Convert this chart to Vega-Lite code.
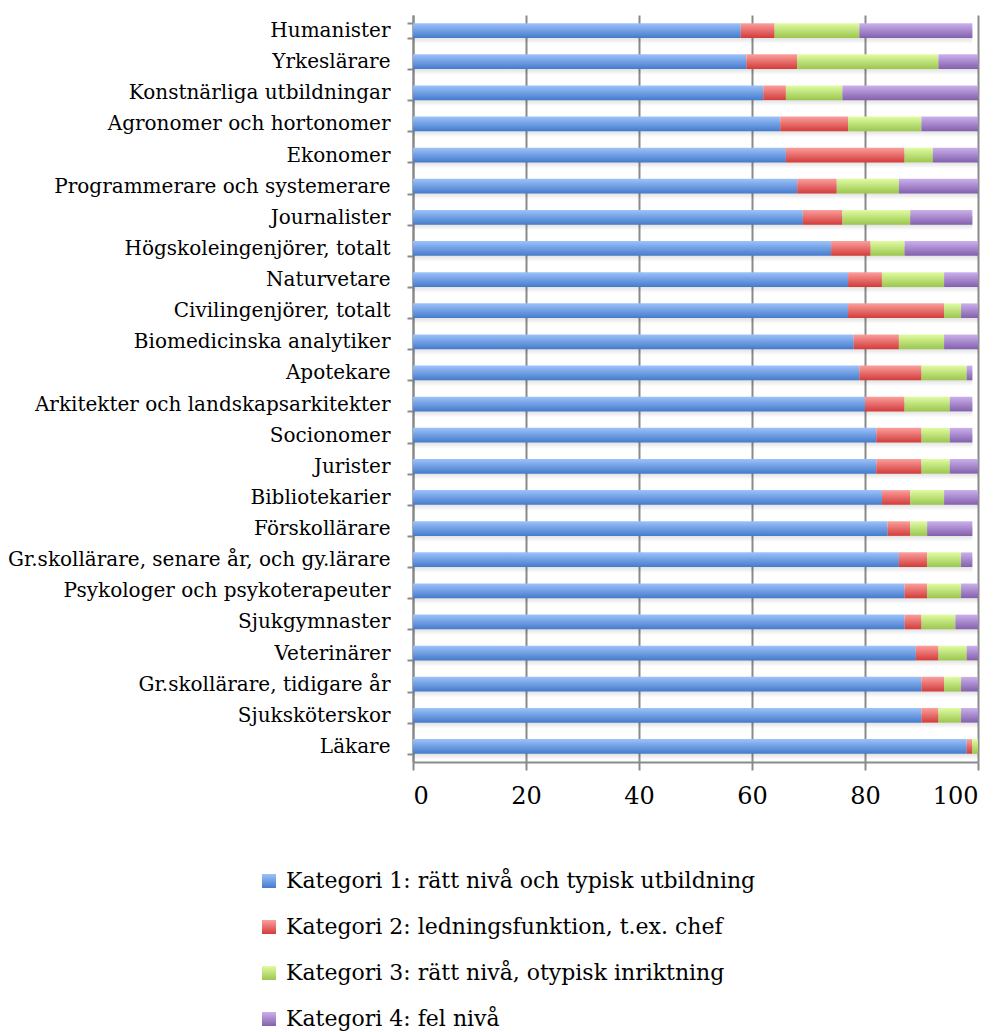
{
  "$schema": "https://vega.github.io/schema/vega-lite/v6.json",
  "autosize": "none",
  "width": 565,
  "height": 747,
  "padding": {"left": 413, "top": 15, "right": 22, "bottom": 270},
  "background": "white",
  "config": {
    "view": {"stroke": null},
    "font": "DejaVu Serif",
    "axis": {"labelFont": "DejaVu Serif", "labelColor": "#000000", "title": null}
  },
  "datasets": {
    "yrken": [
      {"yrke": "Humanister", "kat": 1, "andel": 58}, {"yrke": "Humanister", "kat": 2, "andel": 6}, {"yrke": "Humanister", "kat": 3, "andel": 15}, {"yrke": "Humanister", "kat": 4, "andel": 20},
      {"yrke": "Yrkeslärare", "kat": 1, "andel": 59}, {"yrke": "Yrkeslärare", "kat": 2, "andel": 9}, {"yrke": "Yrkeslärare", "kat": 3, "andel": 25}, {"yrke": "Yrkeslärare", "kat": 4, "andel": 7},
      {"yrke": "Konstnärliga utbildningar", "kat": 1, "andel": 62}, {"yrke": "Konstnärliga utbildningar", "kat": 2, "andel": 4}, {"yrke": "Konstnärliga utbildningar", "kat": 3, "andel": 10}, {"yrke": "Konstnärliga utbildningar", "kat": 4, "andel": 24},
      {"yrke": "Agronomer och hortonomer", "kat": 1, "andel": 65}, {"yrke": "Agronomer och hortonomer", "kat": 2, "andel": 12}, {"yrke": "Agronomer och hortonomer", "kat": 3, "andel": 13}, {"yrke": "Agronomer och hortonomer", "kat": 4, "andel": 10},
      {"yrke": "Ekonomer", "kat": 1, "andel": 66}, {"yrke": "Ekonomer", "kat": 2, "andel": 21}, {"yrke": "Ekonomer", "kat": 3, "andel": 5}, {"yrke": "Ekonomer", "kat": 4, "andel": 8},
      {"yrke": "Programmerare och systemerare", "kat": 1, "andel": 68}, {"yrke": "Programmerare och systemerare", "kat": 2, "andel": 7}, {"yrke": "Programmerare och systemerare", "kat": 3, "andel": 11}, {"yrke": "Programmerare och systemerare", "kat": 4, "andel": 14},
      {"yrke": "Journalister", "kat": 1, "andel": 69}, {"yrke": "Journalister", "kat": 2, "andel": 7}, {"yrke": "Journalister", "kat": 3, "andel": 12}, {"yrke": "Journalister", "kat": 4, "andel": 11},
      {"yrke": "Högskoleingenjörer, totalt", "kat": 1, "andel": 74}, {"yrke": "Högskoleingenjörer, totalt", "kat": 2, "andel": 7}, {"yrke": "Högskoleingenjörer, totalt", "kat": 3, "andel": 6}, {"yrke": "Högskoleingenjörer, totalt", "kat": 4, "andel": 13},
      {"yrke": "Naturvetare", "kat": 1, "andel": 77}, {"yrke": "Naturvetare", "kat": 2, "andel": 6}, {"yrke": "Naturvetare", "kat": 3, "andel": 11}, {"yrke": "Naturvetare", "kat": 4, "andel": 6},
      {"yrke": "Civilingenjörer, totalt", "kat": 1, "andel": 77}, {"yrke": "Civilingenjörer, totalt", "kat": 2, "andel": 17}, {"yrke": "Civilingenjörer, totalt", "kat": 3, "andel": 3}, {"yrke": "Civilingenjörer, totalt", "kat": 4, "andel": 3},
      {"yrke": "Biomedicinska analytiker", "kat": 1, "andel": 78}, {"yrke": "Biomedicinska analytiker", "kat": 2, "andel": 8}, {"yrke": "Biomedicinska analytiker", "kat": 3, "andel": 8}, {"yrke": "Biomedicinska analytiker", "kat": 4, "andel": 6},
      {"yrke": "Apotekare", "kat": 1, "andel": 79}, {"yrke": "Apotekare", "kat": 2, "andel": 11}, {"yrke": "Apotekare", "kat": 3, "andel": 8}, {"yrke": "Apotekare", "kat": 4, "andel": 1},
      {"yrke": "Arkitekter och landskapsarkitekter", "kat": 1, "andel": 80}, {"yrke": "Arkitekter och landskapsarkitekter", "kat": 2, "andel": 7}, {"yrke": "Arkitekter och landskapsarkitekter", "kat": 3, "andel": 8}, {"yrke": "Arkitekter och landskapsarkitekter", "kat": 4, "andel": 4},
      {"yrke": "Socionomer", "kat": 1, "andel": 82}, {"yrke": "Socionomer", "kat": 2, "andel": 8}, {"yrke": "Socionomer", "kat": 3, "andel": 5}, {"yrke": "Socionomer", "kat": 4, "andel": 4},
      {"yrke": "Jurister", "kat": 1, "andel": 82}, {"yrke": "Jurister", "kat": 2, "andel": 8}, {"yrke": "Jurister", "kat": 3, "andel": 5}, {"yrke": "Jurister", "kat": 4, "andel": 5},
      {"yrke": "Bibliotekarier", "kat": 1, "andel": 83}, {"yrke": "Bibliotekarier", "kat": 2, "andel": 5}, {"yrke": "Bibliotekarier", "kat": 3, "andel": 6}, {"yrke": "Bibliotekarier", "kat": 4, "andel": 6},
      {"yrke": "Förskollärare", "kat": 1, "andel": 84}, {"yrke": "Förskollärare", "kat": 2, "andel": 4}, {"yrke": "Förskollärare", "kat": 3, "andel": 3}, {"yrke": "Förskollärare", "kat": 4, "andel": 8},
      {"yrke": "Gr.skollärare, senare år, och gy.lärare", "kat": 1, "andel": 86}, {"yrke": "Gr.skollärare, senare år, och gy.lärare", "kat": 2, "andel": 5}, {"yrke": "Gr.skollärare, senare år, och gy.lärare", "kat": 3, "andel": 6}, {"yrke": "Gr.skollärare, senare år, och gy.lärare", "kat": 4, "andel": 2},
      {"yrke": "Psykologer och psykoterapeuter", "kat": 1, "andel": 87}, {"yrke": "Psykologer och psykoterapeuter", "kat": 2, "andel": 4}, {"yrke": "Psykologer och psykoterapeuter", "kat": 3, "andel": 6}, {"yrke": "Psykologer och psykoterapeuter", "kat": 4, "andel": 3},
      {"yrke": "Sjukgymnaster", "kat": 1, "andel": 87}, {"yrke": "Sjukgymnaster", "kat": 2, "andel": 3}, {"yrke": "Sjukgymnaster", "kat": 3, "andel": 6}, {"yrke": "Sjukgymnaster", "kat": 4, "andel": 4},
      {"yrke": "Veterinärer", "kat": 1, "andel": 89}, {"yrke": "Veterinärer", "kat": 2, "andel": 4}, {"yrke": "Veterinärer", "kat": 3, "andel": 5}, {"yrke": "Veterinärer", "kat": 4, "andel": 2},
      {"yrke": "Gr.skollärare, tidigare år", "kat": 1, "andel": 90}, {"yrke": "Gr.skollärare, tidigare år", "kat": 2, "andel": 4}, {"yrke": "Gr.skollärare, tidigare år", "kat": 3, "andel": 3}, {"yrke": "Gr.skollärare, tidigare år", "kat": 4, "andel": 3},
      {"yrke": "Sjuksköterskor", "kat": 1, "andel": 90}, {"yrke": "Sjuksköterskor", "kat": 2, "andel": 3}, {"yrke": "Sjuksköterskor", "kat": 3, "andel": 4}, {"yrke": "Sjuksköterskor", "kat": 4, "andel": 3},
      {"yrke": "Läkare", "kat": 1, "andel": 98}, {"yrke": "Läkare", "kat": 2, "andel": 1}, {"yrke": "Läkare", "kat": 3, "andel": 1}, {"yrke": "Läkare", "kat": 4, "andel": 0}
    ],
    "kategorier": [
      {"kat": 1, "namn": "Kategori 1: rätt nivå och typisk utbildning"},
      {"kat": 2, "namn": "Kategori 2: ledningsfunktion, t.ex. chef"},
      {"kat": 3, "namn": "Kategori 3: rätt nivå, otypisk inriktning"},
      {"kat": 4, "namn": "Kategori 4: fel nivå"}
    ]
  },
  "data": {"name": "yrken"},
  "transform": [
    {"lookup": "kat", "from": {"data": {"name": "kategorier"}, "key": "kat", "fields": ["namn"]}},
    {"stack": "andel", "groupby": ["yrke"], "sort": [{"field": "kat", "order": "ascending"}], "as": ["start", "slut"]}
  ],
  "encoding": {
    "y": {
      "field": "yrke",
      "type": "nominal",
      "sort": ["Humanister", "Yrkeslärare", "Konstnärliga utbildningar", "Agronomer och hortonomer", "Ekonomer", "Programmerare och systemerare", "Journalister", "Högskoleingenjörer, totalt", "Naturvetare", "Civilingenjörer, totalt", "Biomedicinska analytiker", "Apotekare", "Arkitekter och landskapsarkitekter", "Socionomer", "Jurister", "Bibliotekarier", "Förskollärare", "Gr.skollärare, senare år, och gy.lärare", "Psykologer och psykoterapeuter", "Sjukgymnaster", "Veterinärer", "Gr.skollärare, tidigare år", "Sjuksköterskor", "Läkare"],
      "scale": {"paddingInner": 0.53, "paddingOuter": 0.265},
      "axis": {
        "labelFontSize": 20,
        "labelLimit": 420,
        "labelPadding": 17,
        "tickBand": "extent",
        "tickSize": 6,
        "tickColor": "#8a8a8a",
        "tickWidth": 2,
        "domainColor": "#8a8a8a",
        "domainWidth": 2,
        "grid": false
      }
    },
    "x": {
      "field": "start",
      "type": "quantitative",
      "scale": {"domain": [0, 100], "nice": false},
      "axis": {
        "values": [0, 20, 40, 60, 80, 100],
        "labelFontSize": 24,
        "labelPadding": 14,
        "tickSize": 8,
        "tickColor": "#8a8a8a",
        "tickWidth": 2,
        "domainColor": "#8a8a8a",
        "domainWidth": 2,
        "grid": true,
        "gridColor": "#8a8a8a",
        "gridWidth": 2
      }
    },
    "x2": {"field": "slut"}
  },
  "layer": [
    {
      "mark": {
        "type": "bar",
        "yOffset": 6,
        "color": {
          "gradient": "linear", "x1": 0, "y1": 0, "x2": 0, "y2": 1,
          "stops": [
            {"offset": 0, "color": "rgba(0,0,0,0.28)"},
            {"offset": 1, "color": "rgba(0,0,0,0)"}
          ]
        }
      }
    },
    {
      "mark": {"type": "bar"},
      "encoding": {
        "color": {
          "field": "namn",
          "type": "nominal",
          "sort": ["Kategori 1: rätt nivå och typisk utbildning", "Kategori 2: ledningsfunktion, t.ex. chef", "Kategori 3: rätt nivå, otypisk inriktning", "Kategori 4: fel nivå"],
          "scale": {
            "range": [
              {"expr": "{gradient: 'linear', x1: 0, y1: 0, x2: 0, y2: 1, stops: [{offset: 0, color: '#9CC2FA'}, {offset: 1, color: '#457BCC'}]}"},
              {"expr": "{gradient: 'linear', x1: 0, y1: 0, x2: 0, y2: 1, stops: [{offset: 0, color: '#FB9F9C'}, {offset: 1, color: '#D23C3B'}]}"},
              {"expr": "{gradient: 'linear', x1: 0, y1: 0, x2: 0, y2: 1, stops: [{offset: 0, color: '#E0FCA2'}, {offset: 1, color: '#9BC64F'}]}"},
              {"expr": "{gradient: 'linear', x1: 0, y1: 0, x2: 0, y2: 1, stops: [{offset: 0, color: '#CBB0EC'}, {offset: 1, color: '#8360AD'}]}"}
            ]
          },
          "legend": {
            "title": null,
            "orient": "none",
            "direction": "vertical",
            "legendX": -155,
            "legendY": 855,
            "padding": 0,
            "symbolType": "square",
            "symbolSize": 196,
            "symbolStrokeWidth": 0,
            "labelFont": "DejaVu Serif",
            "labelFontSize": 22,
            "labelColor": "#000000",
            "labelOffset": 6,
            "labelLimit": 600,
            "rowPadding": 24
          }
        }
      }
    }
  ]
}
